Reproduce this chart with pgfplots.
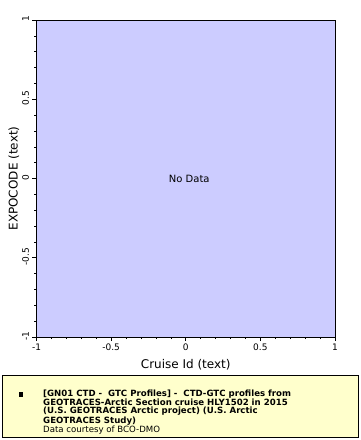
\documentclass[border=0pt]{standalone}
\usepackage{pgfplots}
\pgfplotsset{compat=1.18}
\usepackage{fontspec}
\setmainfont{DejaVu Sans}
\definecolor{plotbg}{RGB}{204,204,255}
\definecolor{legbg}{RGB}{255,255,204}
\begin{document}
\begin{tikzpicture}
\begin{axis}[
  name=ax,
  scale only axis, width=298.5pt, height=317pt,
  xmin=-1, xmax=1, ymin=-1, ymax=1,
  axis background/.style={fill=plotbg},
  xtick={-1,-0.5,0,0.5,1}, ytick={-1,-0.5,0,0.5,1},
  xticklabels={-1,-0.5,0,0.5,1}, yticklabels={-1,-0.5,0,0.5,1},
  minor tick num=4,
  tick align=outside,
  major tick length=4pt, minor tick length=2pt,
  xtick pos=bottom, ytick pos=left,
  tick style={black, line width=0.6pt},
  axis line style={line width=0.8pt},
  ticklabel style={font=\fontsize{9}{10}\selectfont},
  xticklabel style={yshift=1pt},
  yticklabel style={rotate=90, anchor=south, xshift=1pt},
  xlabel={Cruise Id (text)}, ylabel={EXPOCODE (text)},
  label style={font=\fontsize{12}{13}\selectfont},
  xlabel style={yshift=-2pt},
  ylabel style={yshift=-4pt},
]
\node[font=\fontsize{10}{11}\selectfont, xshift=3.5pt] at (axis cs:0,0) {No Data};
\end{axis}
\begin{scope}[shift={(ax.south west)}, x=1pt, y=1pt]
\useasboundingbox (-36.5,-103) rectangle (323.5,337);
\draw[black, line width=0.6pt, fill=legbg] (-34.5,-100) rectangle (321.5,-38);
\fill[black] (-17.9,-59.6) rectangle (-13.1,-55);
\node[anchor=north west, inner sep=0pt, align=left, font=\fontsize{8.6}{8.2}\selectfont] at (6.5,-52.5)
{\textbf{[GN01 CTD - \ GTC Profiles] - \ CTD-GTC profiles from}\\
\textbf{GEOTRACES-Arctic Section cruise HLY1502 in 2015}\\
\textbf{(U.S. GEOTRACES Arctic project) (U.S. Arctic}\\
\textbf{GEOTRACES Study)}\\
Data courtesy of BCO-DMO};
\end{scope}
\end{tikzpicture}
\end{document}
